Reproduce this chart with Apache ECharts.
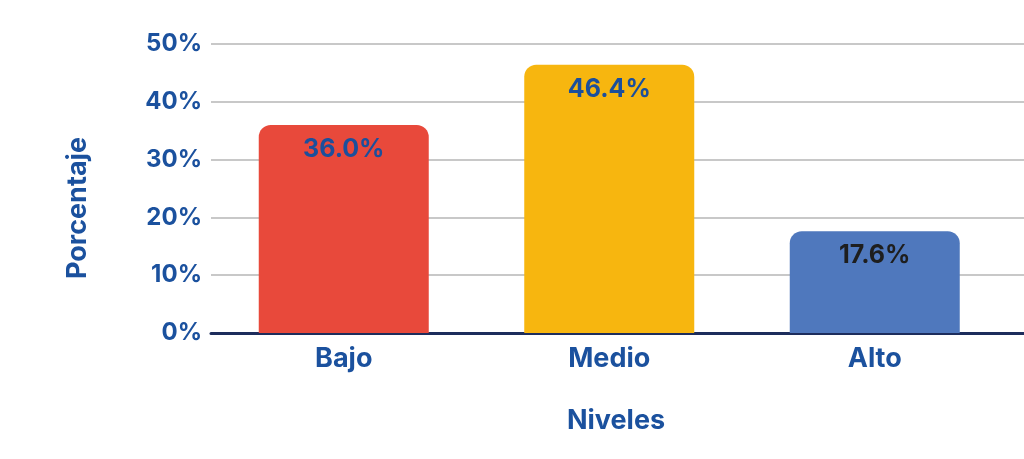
<!DOCTYPE html>
<html>
<head>
<meta charset="utf-8">
<script src="https://cdn.jsdelivr.net/npm/echarts@6/dist/echarts.min.js"></script>
<style>
  html, body { margin: 0; padding: 0; background: #fff; }
  #chart { width: 1024px; height: 459px; }
</style>
</head>
<body>
<div id="chart"></div>
<script>
// data
var categories = ['Bajo', 'Medio', 'Alto']
var values = [36.0, 46.4, 17.6]
var barColors = ['#e8493b', '#f7b60f', '#4f78bd']
var labelColors = ['#1b4f9c', '#1b4f9c', '#1e1e1e']

var FONT = 'Inter'
var BLUE = '#1b519e'
var AXIS = '#1d2d5c'
var GRIDLINE = '#c8c8c8'

var chart = echarts.init(document.getElementById('chart'))

chart.setOption({
  animation: false,
  grid: [
    { left: 211, top: 44, width: 796.5, height: 289 },
    // thin strip so grid lines run to the right edge like the original
    { left: 1007, top: 44, width: 30, height: 289 }
  ],
  xAxis: [
    {
      type: 'category',
      gridIndex: 0,
      data: categories,
      axisLine: { lineStyle: { color: AXIS, width: 3 } },
      axisTick: { show: false },
      axisLabel: {
        color: BLUE,
        fontFamily: FONT,
        fontWeight: 'bold',
        fontSize: 27,
        margin: 12
      }
    },
    {
      type: 'category',
      gridIndex: 1,
      data: [''],
      axisLine: { lineStyle: { color: AXIS, width: 3 } },
      axisTick: { show: false },
      axisLabel: { show: false }
    }
  ],
  yAxis: [
    {
      type: 'value',
      gridIndex: 0,
      min: 0,
      max: 50,
      interval: 10,
      axisLine: { show: false },
      axisTick: { show: false },
      axisLabel: {
        formatter: '{value}%',
        color: BLUE,
        fontFamily: FONT,
        fontWeight: 'bold',
        fontSize: 24,
        margin: 9
      },
      splitLine: { lineStyle: { color: GRIDLINE, width: 2 } }
    },
    {
      type: 'value',
      gridIndex: 1,
      min: 0,
      max: 50,
      interval: 10,
      axisLine: { show: false },
      axisTick: { show: false },
      axisLabel: { show: false },
      splitLine: { lineStyle: { color: GRIDLINE, width: 2 } }
    }
  ],
  graphic: [
    {
      type: 'text',
      x: 78,
      y: 208,
      rotation: Math.PI / 2,
      style: {
        text: 'Porcentaje',
        fill: BLUE,
        font: 'bold 27px ' + FONT,
        align: 'center',
        verticalAlign: 'middle'
      }
    },
    {
      type: 'text',
      x: 616,
      y: 421,
      style: {
        text: 'Niveles',
        fill: BLUE,
        font: 'bold 27px ' + FONT,
        align: 'center',
        verticalAlign: 'middle'
      }
    }
  ],
  series: [
    {
      type: 'bar',
      xAxisIndex: 0,
      yAxisIndex: 0,
      barWidth: 170,
      data: values.map(function (v, i) {
        return {
          value: v,
          itemStyle: { color: barColors[i], borderRadius: [12, 12, 0, 0] },
          label: { color: labelColors[i] }
        }
      }),
      label: {
        show: true,
        position: 'insideTop',
        distance: 12,
        formatter: function (p) { return p.value.toFixed(1) + '%' },
        fontFamily: FONT,
        fontWeight: 'bold',
        fontSize: 25
      }
    }
  ]
})
</script>
</body>
</html>
